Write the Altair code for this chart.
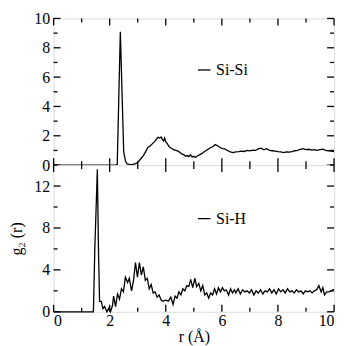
import altair as alt
import pandas as pd

# ---- Si-Si g(r) ----
sisi_r = [0, 2.2, 2.27, 2.33, 2.38, 2.44, 2.5, 2.56, 2.62, 2.7, 2.8, 2.9, 2.98, 3.05, 3.12, 3.2,
          3.28, 3.36, 3.44, 3.52, 3.6, 3.66, 3.72, 3.78, 3.84, 3.88, 3.92, 3.96, 4.0, 4.06, 4.12,
          4.2, 4.28, 4.36, 4.44, 4.52, 4.58, 4.64, 4.7, 4.76, 4.82, 4.88, 4.94, 5.0, 5.06, 5.12,
          5.2, 5.28, 5.36, 5.44, 5.52, 5.6, 5.68, 5.76, 5.82, 5.9, 5.98, 6.04,
          6.1, 6.2, 6.3, 6.4, 6.5, 6.6, 6.7, 6.8, 6.9, 7.0, 7.1, 7.2, 7.3, 7.4, 7.5, 7.6, 7.7,
          7.8, 7.9, 8.0, 8.1, 8.2, 8.3, 8.4, 8.5, 8.6, 8.7, 8.8, 8.9, 9.0, 9.1, 9.2, 9.3, 9.4,
          9.5, 9.6, 9.7, 9.8, 9.9, 10.0]
sisi_g = [0, 0, 0.05, 5.0, 9.1, 5.0, 0.9, 0.3, 0.08, 0.05, 0.03, 0.08, 0.15, 0.3, 0.45, 0.65,
          0.9, 1.2, 1.3, 1.45, 1.6, 1.75, 1.9, 1.85, 1.92, 1.75, 1.65, 1.85, 1.6, 1.45, 1.25,
          1.15, 1.05, 1.0, 0.95, 0.85, 0.75, 0.72, 0.6, 0.65, 0.58, 0.7, 0.55, 0.6, 0.52, 0.62,
          0.7, 0.78, 0.9, 1.0, 1.1, 1.2, 1.25, 1.4, 1.35, 1.25, 1.15, 1.12,
          1.1, 1.0, 0.9, 0.85, 0.9, 0.92, 0.95, 0.93, 1.0, 0.97, 1.02, 1.0, 1.1, 1.15, 1.05,
          1.12, 1.0, 0.98, 0.95, 0.92, 0.9, 0.85, 0.9, 0.88, 0.92, 0.98, 1.0, 1.08, 1.12, 1.05,
          1.08, 1.02, 1.06, 1.0, 1.05, 1.08, 1.0, 0.98, 0.95, 0.92]

# ---- Si-H g(r) ----
sih_r = [0, 1.42, 1.47, 1.56, 1.6, 1.64, 1.7, 1.76, 1.82, 1.9, 1.98, 2.03, 2.1, 2.14, 2.21,
         2.28, 2.35, 2.42, 2.49, 2.56, 2.64, 2.7, 2.78, 2.85, 2.92, 2.99, 3.06, 3.13, 3.2,
         3.27, 3.34, 3.41, 3.48, 3.55, 3.62, 3.69, 3.76, 3.84, 3.9, 4.0, 4.09, 4.18, 4.26,
         4.33, 4.4, 4.47, 4.54, 4.61, 4.68, 4.75, 4.82, 4.89, 4.96, 5.04, 5.1, 5.18, 5.25,
         5.32, 5.39, 5.46, 5.53, 5.6, 5.67, 5.74, 5.81, 5.88, 5.95, 6.02, 6.09, 6.16, 6.24,
         6.31, 6.38, 6.45,
         6.5, 6.58, 6.66, 6.74, 6.82, 6.9, 6.98, 7.06, 7.14, 7.22, 7.3, 7.38, 7.46, 7.54,
         7.62, 7.7, 7.78, 7.86, 7.94, 8.02, 8.1, 8.18, 8.26, 8.34, 8.42, 8.5, 8.58, 8.66,
         8.74, 8.82, 8.9, 8.98, 9.06, 9.14, 9.22, 9.3, 9.38, 9.46, 9.54, 9.6, 9.66, 9.74,
         9.82, 9.9, 10.0]
sih_g = [0, 0, 6.0, 13.6, 6.0, 1.0, 1.0, 0.3, 0.5, 0.0, 0.4, 0.0, 0.6, 1.5, 0.5,
         1.7, 1.2, 2.2, 1.9, 3.3, 2.8, 3.2, 2.0, 3.0, 4.7, 3.3, 4.7, 3.5, 4.3,
         3.0, 3.2, 2.2, 2.6, 1.8, 1.9, 1.4, 1.6, 1.1, 1.0, 1.1, 1.0, 1.4, 0.7,
         1.5, 1.3, 1.9, 1.6, 2.2, 2.0, 2.5, 2.4, 3.1, 2.3, 3.2, 2.4, 2.7, 2.0,
         2.5, 1.6, 1.8, 1.3, 1.8, 1.6, 2.2, 1.7, 2.3, 1.9, 2.3, 2.0, 2.1, 1.6,
         2.2, 1.8, 2.1,
         1.8, 2.2, 1.7, 2.1, 1.9, 2.0, 1.8, 2.1, 1.6, 2.0, 1.8, 2.1, 1.7, 2.0,
         1.9, 2.2, 1.8, 2.1, 1.7, 2.2, 1.9, 2.1, 1.8, 2.2, 1.9, 2.0, 1.8, 2.1,
         1.9, 2.0, 1.7, 2.0, 1.9, 2.0, 1.8, 2.0, 2.1, 2.5, 1.9, 2.3, 1.6, 1.9,
         1.9, 2.0, 2.15]

x_major = [0, 2, 4, 6, 8, 10]
x_minor = [1, 3, 5, 7, 9]
top_y_major = [0, 2, 4, 6, 8, 10]
top_y_minor = [1, 3, 5, 7, 9]
bot_y_major = [0, 4, 8, 12]
bot_y_minor = [2, 6, 10, 14]

W = 283
H = 148
XDOM = [0, 10]
FONT = "Liberation Serif"
MAJ, MIN = 7, 4


def tick_rows(xs, ys, L, ydom, tag):
    """Inward tick segments on all four sides (two points per segment, data units)."""
    lx = L / W * (XDOM[1] - XDOM[0])
    ly = L / H * (ydom[1] - ydom[0])
    rows = []
    k = 0
    for v in xs:
        for a, b in [(ydom[0], ydom[0] + ly), (ydom[1], ydom[1] - ly)]:
            seg = f"{tag}x{k}"
            k += 1
            rows += [{"r": v, "g": a, "series": "tick", "seg": seg},
                     {"r": v, "g": b, "series": "tick", "seg": seg}]
    for v in ys:
        for a, b in [(XDOM[0], XDOM[0] + lx), (XDOM[1] - lx, XDOM[1])]:
            seg = f"{tag}y{k}"
            k += 1
            rows += [{"r": a, "g": v, "series": "tick", "seg": seg},
                     {"r": b, "g": v, "series": "tick", "seg": seg}]
    return rows


def panel(r, g, name, ydom, ymaj, ymin, bottom, legx, legy, ytitle):
    curve = pd.DataFrame({"r": r, "g": g, "series": name, "seg": "curve"})
    ticks = pd.DataFrame(tick_rows(x_major, ymaj, MAJ, ydom, "M")
                         + tick_rows(x_minor, ymin, MIN, ydom, "m"))
    df = pd.concat([curve, ticks], ignore_index=True)
    xscale = alt.Scale(domain=XDOM, nice=False, zero=False)
    yscale = alt.Scale(domain=ydom, nice=False, zero=False)
    if bottom:
        xaxis = alt.Axis(values=x_major, ticks=False, domain=False, grid=False,
                         labelFont=FONT, labelFontSize=16, labelColor="black",
                         labelPadding=1, title="r (Å)", titleFont=FONT, titleFontSize=16,
                         titleFontWeight="normal", titleColor="black", titlePadding=0)
    else:
        xaxis = None
    yaxis = alt.Axis(values=ymaj, ticks=False, domain=False, grid=False,
                     labelFont=FONT, labelFontSize=16, labelColor="black", labelPadding=4,
                     title=ytitle, titleFont=FONT, titleFontSize=16,
                     titleFontWeight="normal", titleColor="black", titlePadding=9)

    return alt.Chart(df).mark_line(strokeWidth=1.3).encode(
        x=alt.X("r:Q", scale=xscale, axis=xaxis),
        y=alt.Y("g:Q", scale=yscale, axis=yaxis),
        detail="seg:N",
        color=alt.Color("series:N",
                        scale=alt.Scale(domain=[name, "tick"], range=["black", "black"]),
                        legend=alt.Legend(orient="none", legendX=legx, legendY=legy,
                                          values=[name],
                                          title=None, symbolType="stroke",
                                          symbolSize=160, symbolStrokeWidth=1.3,
                                          labelFont=FONT, labelFontSize=16,
                                          labelColor="black", padding=0)),
    ).properties(width=W, height=H)


top = panel(sisi_r, sisi_g, "Si-Si", [0, 10], top_y_major, top_y_minor,
            False, 144, 44, None)
bot = panel(sih_r, sih_g, "Si-H", [0, 14], bot_y_major, bot_y_minor,
            True, 144, 46, "g₂ (r)")

chart = alt.vconcat(top, bot, spacing=0, bounds="flush").resolve_scale(
    color="independent"
).configure_view(stroke="black", strokeWidth=1.2).configure(padding=0, font=FONT)

chart.save("out.html", embed_options={"renderer": "svg", "actions": False})
